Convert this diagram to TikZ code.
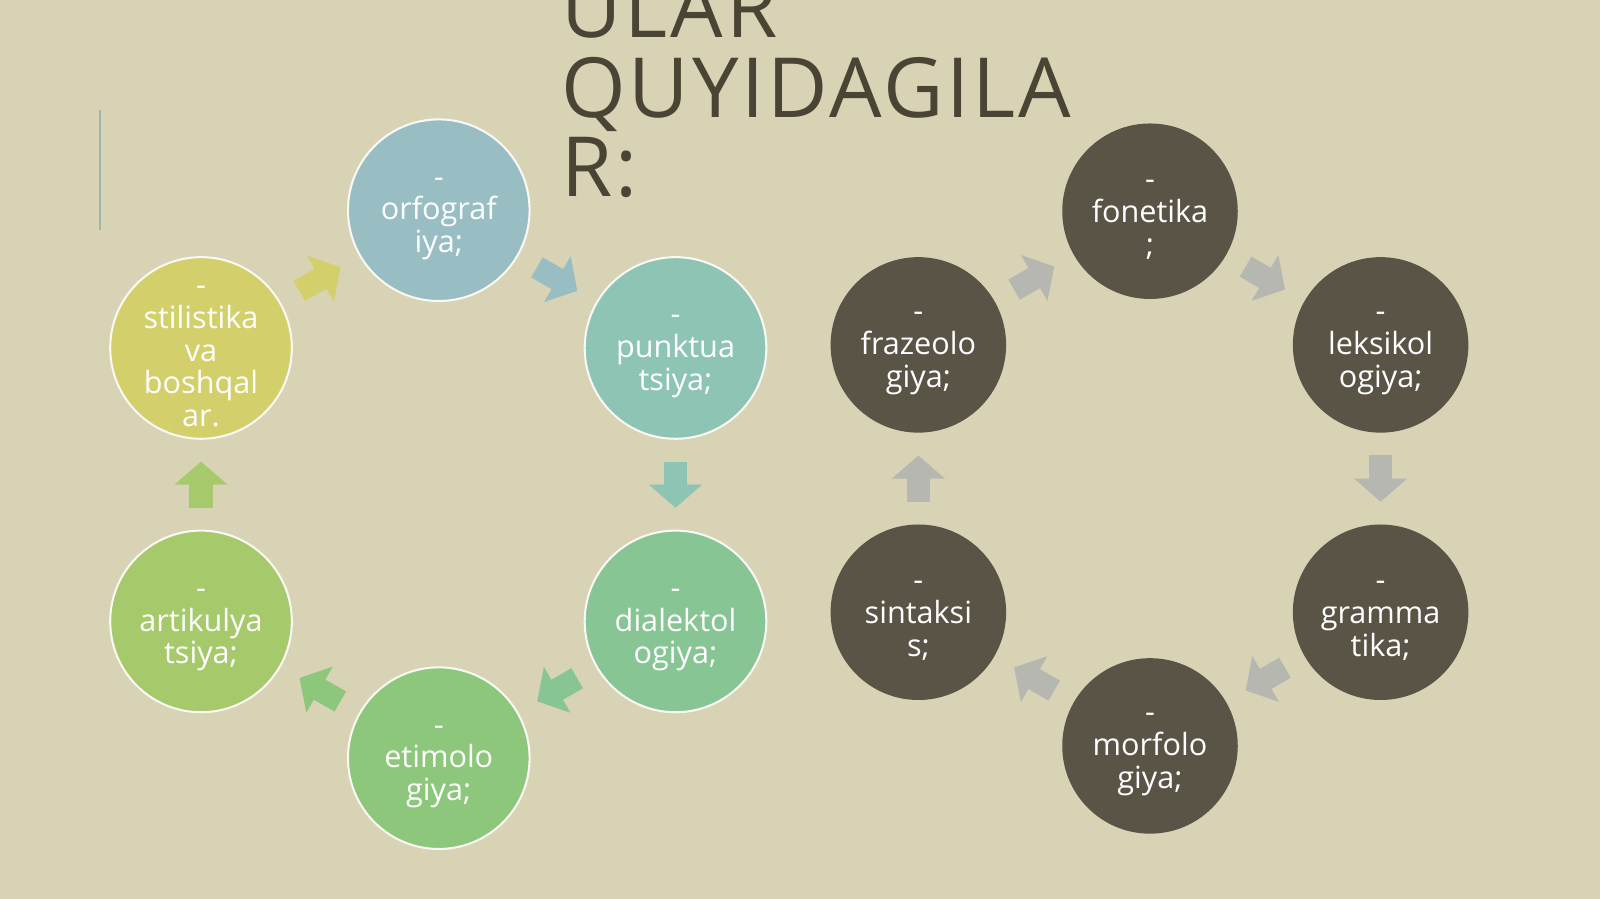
\documentclass[tikz,border=0pt]{standalone}
\usepackage{fontspec}
\setmainfont{Open Sans}
\newfontfamily\titlefont[LetterSpace=3.5]{Open Sans}
\usepackage{tikz}
\usetikzlibrary{arrows.meta}
\definecolor{slidebg}{HTML}{D7D3B4}
\definecolor{titlecol}{HTML}{4A4434}
\definecolor{rulecol}{HTML}{9DB8AA}
\definecolor{orfcol}{HTML}{98BEC4}
\definecolor{punktcol}{HTML}{8EC4B4}
\definecolor{dialcol}{HTML}{87C595}
\definecolor{etimcol}{HTML}{8DC77B}
\definecolor{artcol}{HTML}{A6C96B}
\definecolor{stilcol}{HTML}{D3CF6A}
\definecolor{darkcol}{HTML}{5A5447}
\definecolor{greycol}{HTML}{B6B7B1}
\newcommand{\topgap}{\rule{0pt}{19.5pt}}

\begin{document}
\begin{tikzpicture}[
    x=0.75pt, y=-0.75pt,
    bubble/.style={circle, draw=white!85!slidebg, line width=1.5pt, minimum size=133.5pt, inner sep=-10pt, text=white, font=\fontsize{22.5}{24}\selectfont, align=center},
    darkbubble/.style={bubble, draw=none, fill=darkcol, minimum size=129pt},
    flow/.style={line width=17pt, -{Triangle[width=38pt,length=17pt]}, shorten <=16pt, shorten >=16pt}
]
% Slide
\clip (0,0) rectangle (1568,881);
\fill[slidebg] (0,0) rectangle (1568,881);
\draw[rulecol, line width=1.5pt] (98,108) -- (98,225);
\node[anchor=base west, align=left, inner sep=0pt, text=titlecol, font=\titlefont\fontsize{61}{58.5}\selectfont] (title) at (550,193) {ULAR\\QUYIDAGILA\\R:};

% Left cycle
\node[bubble, fill=orfcol] (orf) at (430,206) {\topgap-\\orfograf\\iya;};
\node[bubble, fill=punktcol] (punkt) at (662,341) {\topgap-\\punktua\\tsiya;};
\node[bubble, fill=dialcol] (dial) at (662,609) {\topgap-\\dialektol\\ogiya;};
\node[bubble, fill=etimcol] (etim) at (430,743) {\topgap-\\etimolo\\giya;};
\node[bubble, fill=artcol] (art) at (197,609) {\topgap-\\artikulya\\tsiya;};
\node[bubble, fill=stilcol] (stil) at (197,341) {\topgap-\\stilistika\\va\\boshqal\\ar.};

\draw[flow, stilcol] (stil) -- (orf);
\draw[flow, orfcol] (orf) -- (punkt);
\draw[flow, punktcol] (punkt) -- (dial);
\draw[flow, dialcol] (dial) -- (etim);
\draw[flow, etimcol!95!dialcol] (etim) -- (art);
\draw[flow, artcol] (art) -- (stil);

% Right cycle
\node[darkbubble] (fon) at (1127,207) {\topgap-\\fonetika\\;};
\node[darkbubble] (leks) at (1353,338) {\topgap-\\leksikol\\ogiya;};
\node[darkbubble] (gram) at (1353,600) {\topgap-\\gramma\\tika;};
\node[darkbubble] (morf) at (1127,731) {\topgap-\\morfolo\\giya;};
\node[darkbubble] (sint) at (900,600) {\topgap-\\sintaksi\\s;};
\node[darkbubble] (fraz) at (900,338) {\topgap-\\frazeolo\\giya;};

\draw[flow, greycol] (fraz) -- (fon);
\draw[flow, greycol] (fon) -- (leks);
\draw[flow, greycol] (leks) -- (gram);
\draw[flow, greycol] (gram) -- (morf);
\draw[flow, greycol] (morf) -- (sint);
\draw[flow, greycol] (sint) -- (fraz);
\end{tikzpicture}
\end{document}
